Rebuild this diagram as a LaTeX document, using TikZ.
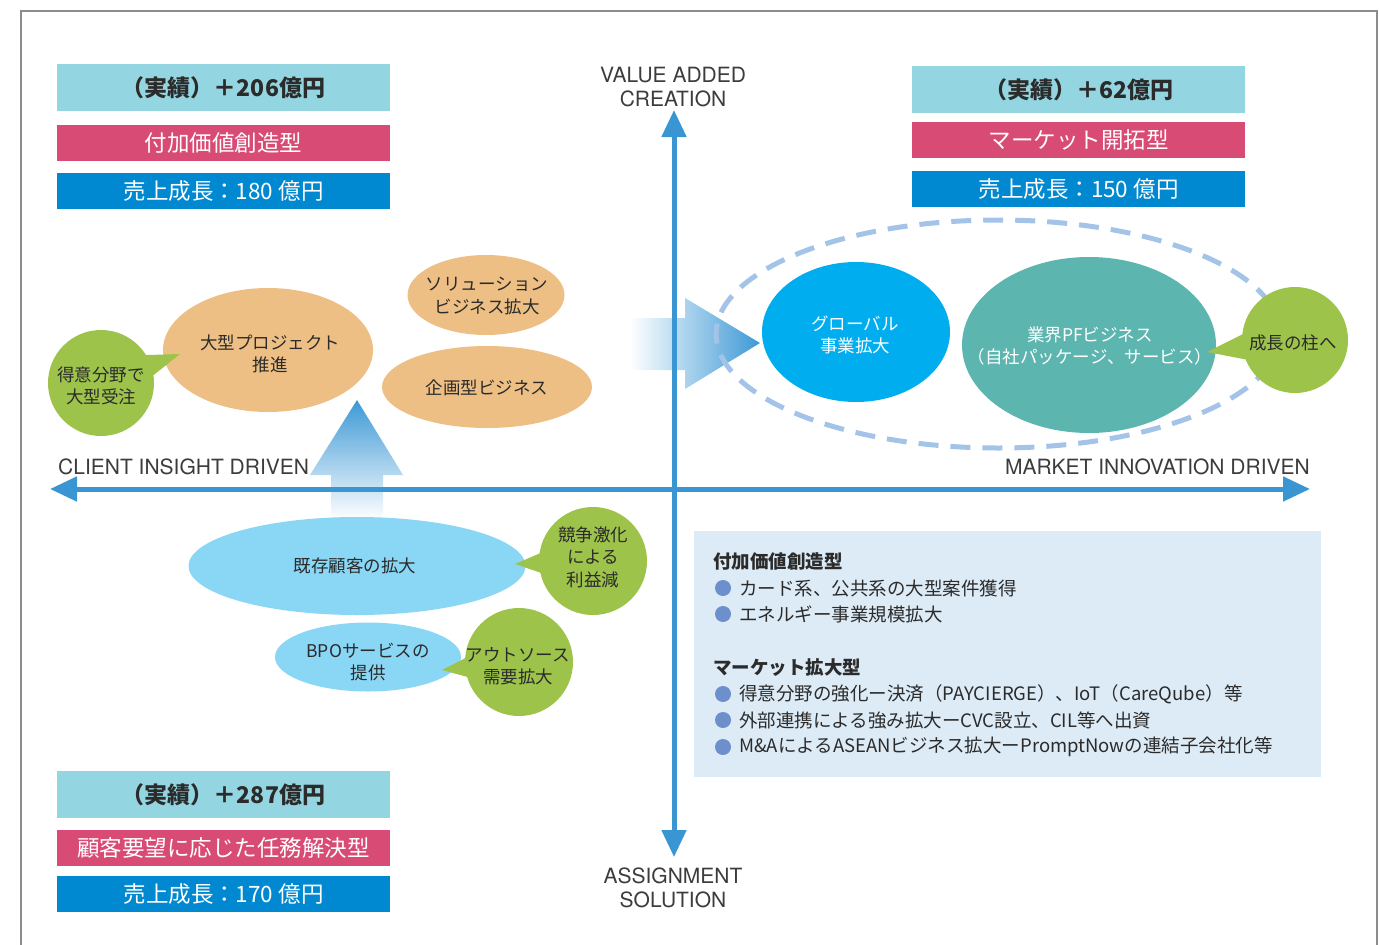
\documentclass[tikz,border=0pt]{standalone}
\usepackage{fontspec}
\setmainfont{Noto Sans CJK JP}
\newfontfamily\lat{TeX Gyre Heros}
\usetikzlibrary{shapes.geometric,arrows.meta,calc}
\definecolor{cyanbox}{HTML}{93D5E1}
\definecolor{pinkbox}{HTML}{D84B75}
\definecolor{bluebox}{HTML}{0089D0}
\definecolor{axisc}{HTML}{3A96D2}
\definecolor{arrowc}{HTML}{3D99D6}
\definecolor{orangec}{HTML}{EDBF85}
\definecolor{greenc}{HTML}{9DC34B}
\definecolor{lbluec}{HTML}{8AD6F5}
\definecolor{globalc}{HTML}{00AEEF}
\definecolor{tealc}{HTML}{5DB5AF}
\definecolor{dashc}{HTML}{A3C3E8}
\definecolor{tbox}{HTML}{DDEBF6}
\definecolor{dtext}{HTML}{2B2B2B}
\definecolor{axtext}{HTML}{3C3C3C}
\definecolor{bulc}{HTML}{6D8FCB}
\definecolor{framec}{HTML}{8C8C8C}
\tikzset{
 hdr/.style={fill=cyanbox, text=dtext, minimum width=333pt, minimum height=47pt, inner sep=0pt, font=\fontsize{23}{27}\selectfont\bfseries},
 typ/.style={fill=pinkbox, text=white, minimum width=333pt, minimum height=36pt, inner sep=0pt, font=\fontsize{22.5}{27}\selectfont},
 grw/.style={fill=bluebox, text=white, minimum width=333pt, minimum height=36pt, inner sep=0pt, font=\fontsize{22.5}{27}\selectfont},
 ell/.style={ellipse, inner sep=0pt},
 etext/.style={inner sep=0pt, align=center, text=dtext, font=\fontsize{17.5}{22.5}\selectfont},
 bub/.style={circle, fill=greenc, inner sep=0pt, minimum size=#1},
 axisline/.style={draw=axisc, line width=5pt},
 axlab/.style={text=axtext, inner sep=0pt, font=\lat\fontsize{21}{24}\selectfont},
 tbt/.style={anchor=west, inner sep=0pt, text=dtext, font=\fontsize{18.5}{22}\selectfont},
 bul/.style={circle, fill=bulc, minimum size=16pt, inner sep=0pt},
 tail/.style={fill=greenc},
}
\begin{document}
\begin{tikzpicture}[x=1pt,y=-1pt]
\useasboundingbox (0,0) rectangle (1379,945);
% frame
\draw[framec, line width=2pt] (21,945) -- (21,11) -- (1377,11) -- (1377,945);

% header boxes
\node[hdr] (h206) at (223.5,87.5) {（実績）＋206億円};
\node[typ] (tadd) at (223.5,143) {付加価値創造型};
\node[grw] (g180) at (223.5,191) {売上成長：180 億円};
\node[hdr] (h62) at (1078.5,89.5) {（実績）＋62億円};
\node[typ] (tmkt) at (1078.5,140) {マーケット開拓型};
\node[grw] (g150) at (1078.5,189) {売上成長：150 億円};
\node[hdr] (h287) at (223.5,794.5) {（実績）＋287億円};
\node[typ] (tasg) at (223.5,848) {顧客要望に応じた任務解決型};
\node[grw] (g170) at (223.5,894) {売上成長：170 億円};

% text box
\node[fill=tbox, minimum width=627pt, minimum height=246pt, inner sep=0pt] (tb) at (1007.5,654) {};

% gradient arrows
\shade[top color=arrowc, bottom color=white] (331,520) -- (331,475) -- (310,475) -- (357,400) -- (403,475) -- (383,475) -- (383,520) -- cycle;
\shade[left color=white, right color=arrowc] (630,318) -- (685,318) -- (685,298) -- (760,343) -- (685,389) -- (685,370) -- (630,370) -- cycle;

% axes
\coordinate (vt) at (674,110);
\coordinate (vb) at (674,857);
\coordinate (hl) at (50,489);
\coordinate (hr) at (1310,489);
\draw[axisline, {Triangle[length=27pt,width=24pt]}-{Triangle[length=27pt,width=24pt]}] (vt) -- (vb);
\draw[axisline, {Triangle[length=27pt,width=24pt]}-{Triangle[length=27pt,width=24pt]}] (hl) -- (hr);

% axis labels
\node[axlab] (va1) at (673,75) {VALUE ADDED};
\node[axlab] (va2) at (673,99) {CREATION};
\node[axlab] (as1) at (673,876) {ASSIGNMENT};
\node[axlab] (as2) at (673,900) {SOLUTION};
\node[axlab, anchor=west] (cid) at (58,467) {CLIENT INSIGHT DRIVEN};
\node[axlab, anchor=east] (mid) at (1310,467) {MARKET INNOVATION DRIVEN};

% dashed ellipse
\draw[dashc, line width=5pt, dash pattern=on 20pt off 12pt] (998,334) ellipse [x radius=282pt, y radius=114pt];

% upper-left ellipses
\node[ell, fill=orangec, minimum width=210pt, minimum height=124pt] (proj) at (268,350) {};
\node[ell, fill=orangec, minimum width=157pt, minimum height=80pt] (sol) at (486,295) {};
\node[ell, fill=orangec, minimum width=210pt, minimum height=82pt] (kik) at (487,387) {};
% right ellipses
\node[ell, fill=globalc, minimum width=188pt, minimum height=140pt] (glb) at (856,332) {};
\node[ell, fill=tealc, minimum width=254pt, minimum height=176pt] (pf) at (1089,345) {};
% lower ellipses
\node[ell, fill=lbluec, minimum width=337pt, minimum height=98pt] (kiz) at (357,566) {};
\node[ell, fill=lbluec, minimum width=186pt, minimum height=69pt] (bpo) at (368,657) {};

% tails and bubbles
\coordinate (c1) at (101,383); \coordinate (t1) at (180,354);
\coordinate (c2) at (1295,340); \coordinate (t2) at (1207,352);
\coordinate (c3) at (593,561); \coordinate (t3) at (515,564);
\coordinate (c4) at (519,662); \coordinate (t4) at (442,670);
\fill[tail] ($(c1)!28pt!90:(t1)$) -- (t1) -- ($(c1)!28pt!-90:(t1)$) -- cycle;
\fill[tail] ($(c2)!30pt!90:(t2)$) -- (t2) -- ($(c2)!30pt!-90:(t2)$) -- cycle;
\fill[tail] ($(c3)!30pt!90:(t3)$) -- (t3) -- ($(c3)!30pt!-90:(t3)$) -- cycle;
\fill[tail] ($(c4)!30pt!90:(t4)$) -- (t4) -- ($(c4)!30pt!-90:(t4)$) -- cycle;
\node[bub=106pt] (b1) at (c1) {};
\node[bub=106pt] (b2) at (c2) {};
\node[bub=108pt] (b3) at (c3) {};
\node[bub=108pt] (b4) at (c4) {};

% texts in shapes
\node[etext] (projt) at (270,354) {大型プロジェクト\\推進};
\node[etext] (solt) at (487,296) {ソリューション\\ビジネス拡大};
\node[etext] (kikt) at (487,388) {企画型ビジネス};
\node[etext, text=white] (glbt) at (855,335) {グローバル\\事業拡大};
\node[etext, text=white] (pft) at (1090,346) {業界PFビジネス\\（自社パッケージ、サービス）};
\node[etext] (kizt) at (355,566) {既存顧客の拡大};
\node[etext] (bpot) at (368,662) {BPOサービスの\\提供};
\node[etext] (b1t) at (101,386) {得意分野で\\大型受注};
\node[etext] (b2t) at (1293,343) {成長の柱へ};
\node[etext] (b3t) at (593,557) {競争激化\\による\\利益減};
\node[etext] (b4t) at (518,666) {アウトソース\\需要拡大};

% text box contents
\node[tbt, font=\fontsize{18.5}{22}\selectfont\bfseries] (hd1) at (713,561) {付加価値創造型};
\node[bul] (p1) at (723,588) {}; \node[tbt] (l1) at (739,588) {カード系、公共系の大型案件獲得};
\node[bul] (p2) at (723,614) {}; \node[tbt] (l2) at (739,614) {エネルギー事業規模拡大};
\node[tbt, font=\fontsize{18.5}{22}\selectfont\bfseries] (hd2) at (713,668) {マーケット拡大型};
\node[bul] (p3) at (723,694) {}; \node[tbt] (l3) at (739,694) {得意分野の強化ー決済（PAYCIERGE）、IoT（CareQube）等};
\node[bul] (p4) at (723,720) {}; \node[tbt] (l4) at (739,720) {外部連携による強み拡大ーCVC設立、CIL等へ出資};
\node[bul] (p5) at (723,747) {}; \node[tbt] (l5) at (739,747) {M\&AによるASEANビジネス拡大ーPromptNowの連結子会社化等};
\end{tikzpicture}
\end{document}
